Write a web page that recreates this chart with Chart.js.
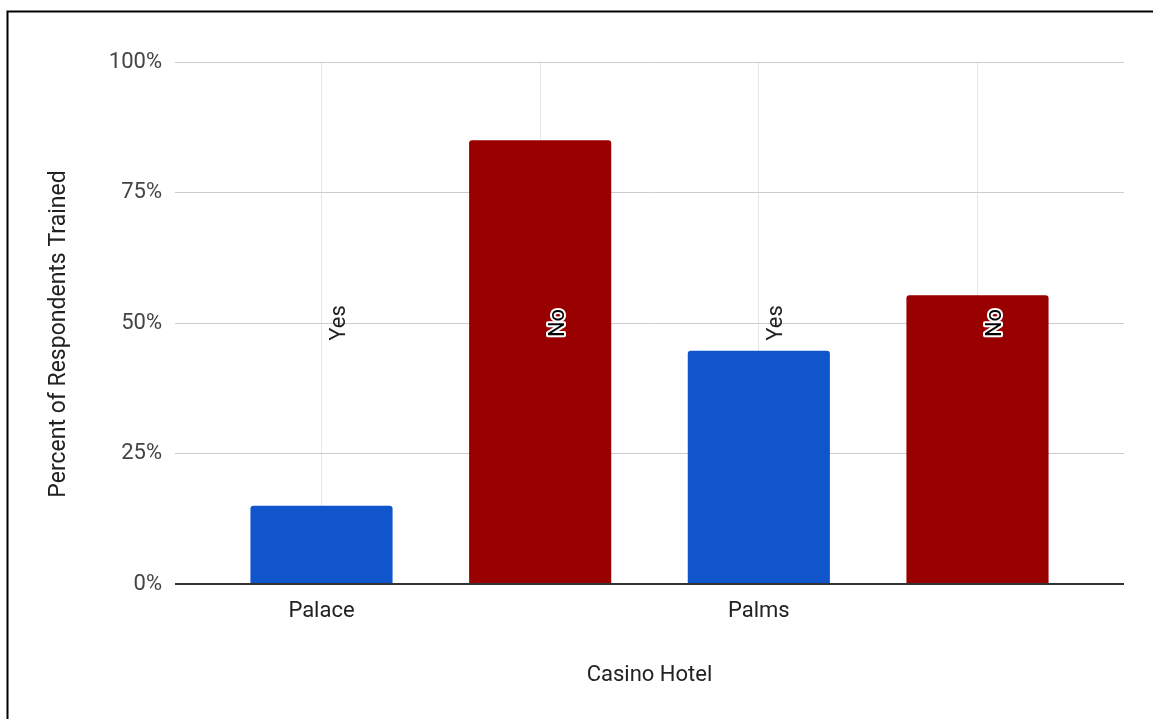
<!DOCTYPE html>
<html>
<head>
<meta charset="utf-8">
<script src="https://cdn.jsdelivr.net/npm/chart.js@4/dist/chart.umd.min.js"></script>
<style>
  html, body { margin: 0; padding: 0; background: #ffffff; }
  #wrap { position: relative; width: 1153px; height: 719px; }
</style>
</head>
<body>
<div id="wrap"><canvas id="c" width="1153" height="719"></canvas></div>
<script>
// ---- data ----
const hotels = ["Palace", "Palace", "Palms", "Palms"];
const responses = ["Yes", "No", "Yes", "No"];
const percents = [15, 85, 44.7, 55.3];
const xTickLabels = ["Palace", "", "Palms", ""];
const yTickValues = [0, 25, 50, 75, 100];
const barColors = { Yes: "#1155cc", No: "#990000" };

const FONT = "Roboto, 'Open Sans', sans-serif";

const framePlugin = {
  id: "frame",
  beforeDraw(chart) {
    const ctx = chart.ctx;
    ctx.save();
    ctx.fillStyle = "#ffffff";
    ctx.fillRect(0, 0, chart.width, chart.height);
    ctx.restore();
  },
  afterDraw(chart) {
    const ctx = chart.ctx;
    ctx.save();
    ctx.strokeStyle = "#000000";
    ctx.lineWidth = 2;
    ctx.beginPath();
    ctx.moveTo(7.5, chart.height);
    ctx.lineTo(7.5, 11.5);
    ctx.lineTo(chart.width, 11.5);
    ctx.stroke();
    // y axis title
    ctx.fillStyle = "#222222";
    ctx.font = "23px " + FONT;
    ctx.textAlign = "center";
    ctx.textBaseline = "middle";
    ctx.translate(59, chart.chartArea.top + (chart.chartArea.bottom - chart.chartArea.top) / 2 + 11);
    ctx.rotate(-Math.PI / 2);
    ctx.fillText("Percent of Respondents Trained", 0, 0);
    ctx.restore();
  }
};

const labelPlugin = {
  id: "barLabels",
  afterDatasetsDraw(chart) {
    const ctx = chart.ctx;
    const meta = chart.getDatasetMeta(0);
    const area = chart.chartArea;
    const cy = (area.top + area.bottom) / 2;
    ctx.save();
    ctx.font = "22px " + FONT;
    ctx.textAlign = "center";
    ctx.textBaseline = "middle";
    meta.data.forEach((bar, i) => {
      const txt = responses[i];
      ctx.save();
      ctx.translate(bar.x + 18, cy);
      ctx.rotate(-Math.PI / 2);
      if (txt === "No") {
        ctx.lineJoin = "round";
        ctx.strokeStyle = "#ffffff";
        ctx.lineWidth = 4;
        ctx.strokeText(txt, 0, 0);
        ctx.fillStyle = "#000000";
      } else {
        ctx.fillStyle = "#222222";
      }
      ctx.fillText(txt, 0, 0);
      ctx.restore();
    });
    ctx.restore();
  }
};

new Chart(document.getElementById("c"), {
  type: "bar",
  data: {
    datasets: [{
      label: "Percent of Respondents Trained",
      data: percents.map((v, i) => ({ x: i, y: v })),
      backgroundColor: responses.map(r => barColors[r]),
      borderRadius: { topLeft: 3, topRight: 3, bottomLeft: 0, bottomRight: 0 },
      borderSkipped: "start",
      categoryPercentage: 1,
      barPercentage: 0.65
    }]
  },
  options: {
    responsive: false,
    animation: false,
    layout: { padding: { top: 62, right: 29, bottom: 0, left: 0 } },
    plugins: {
      legend: { display: false },
      tooltip: { enabled: false }
    },
    scales: {
      x: {
        type: "linear",
        offset: false,
        min: -0.67,
        max: xTickLabels.length - 1 + 0.67,
        afterBuildTicks: (scale) => { scale.ticks = xTickLabels.map((_, i) => ({ value: i })); },
        afterFit: (scale) => { scale.height = 135; },
        border: { display: false },
        grid: { offset: false, color: "#e6e6e6", lineWidth: 1, drawTicks: false },
        ticks: {
          autoSkip: false,
          maxRotation: 0,
          padding: 14,
          color: "#222222",
          font: { family: FONT, size: 22 },
          callback: (v) => xTickLabels[v] !== undefined ? xTickLabels[v] : ""
        },
        title: {
          display: true,
          text: "Casino Hotel",
          color: "#222222",
          font: { family: FONT, size: 22 },
          padding: { top: 0, bottom: 30 }
        }
      },
      y: {
        min: 0,
        max: 100,
        afterBuildTicks: (scale) => { scale.ticks = yTickValues.map(v => ({ value: v })); },
        afterFit: (scale) => { scale.width = 175; },
        border: { display: false },
        grid: {
          drawTicks: false,
          color: (c) => c.tick && c.tick.value === 0 ? "#333333" : "#cccccc",
          lineWidth: (c) => c.tick && c.tick.value === 0 ? 2 : 1
        },
        ticks: {
          padding: 13,
          color: "#444444",
          font: { family: FONT, size: 22 },
          callback: (v) => v + "%"
        }
      }
    }
  },
  plugins: [framePlugin, labelPlugin]
});
</script>
</body>
</html>
